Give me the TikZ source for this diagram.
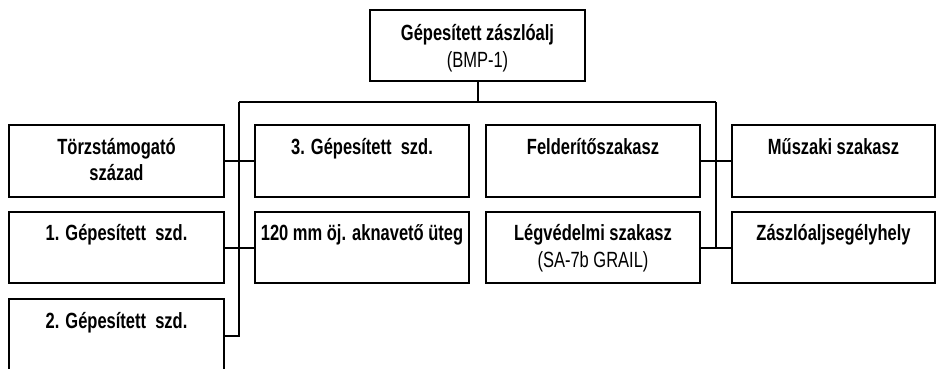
\documentclass[tikz,border=0pt]{standalone}
\usepackage{fontspec}
\setmainfont{Liberation Sans}[FakeStretch=0.75]
\begin{document}
\begin{tikzpicture}[x=1pt,y=-1pt,
  box/.style={draw,line width=2pt,minimum width=#1,minimum height=71.5pt,inner sep=0pt,outer sep=0pt},
  box/.default=214pt,
  txt/.style={anchor=north,inner sep=0pt,align=center,font=\fontsize{22}{26.5}\selectfont,yshift=-9pt},
  conn/.style={line width=2pt}]
\clip (0,0) rectangle (937,368);
\fill[white] (0,0) rectangle (937,368);
\newcommand{\tstr}{\rule{0pt}{20pt}}
% top
\node[box=215pt,label={[txt,yshift=-2pt]north:{\tstr\bfseries Gépesített zászlóalj\\(BMP-1)}}] (top) at (477.5,45.5) {};
% column 1
\node[box=215pt,label={[txt]north:{\tstr\bfseries Törzstámogató\\\bfseries század}}] (b11) at (116.5,161) {};
\node[box=215pt,label={[txt]north:{\tstr\bfseries 1. Gépesített\ \ szd.}}] (b21) at (116.5,247.5) {};
\node[box=215pt,minimum height=73pt,label={[txt]north:{\tstr\bfseries 2. Gépesített\ \ szd.}}] (b31) at (116.5,335.5) {};
% column 2
\node[box,label={[txt]north:{\tstr\bfseries 3. Gépesített\ \ szd.}}] (b12) at (362,161) {};
\node[box,label={[txt]north:{\tstr\bfseries 120 mm öj. aknavető üteg}}] (b22) at (362,247.5) {};
% column 3
\node[box,label={[txt]north:{\tstr\bfseries Felderítőszakasz}}] (b13) at (593,161) {};
\node[box,label={[txt]north:{\tstr\bfseries Légvédelmi szakasz\\(SA-7b GRAIL)}}] (b23) at (593,247.5) {};
% column 4
\node[box=203pt,label={[txt]north:{\tstr\bfseries Műszaki szakasz}}] (b14) at (833.5,161) {};
\node[box=203pt,label={[txt]north:{\tstr\bfseries Zászlóaljsegélyhely}}] (b24) at (833.5,247.5) {};
% connectors
\coordinate (busL) at (239,102);
\coordinate (busR) at (716,102);
\draw[conn] (top.south) -- (top.south |- busL);
\draw[conn] (busL) -- (busR);
\draw[conn] (busL) |- (b31.east);
\draw[conn] (busR) |- (b23.east);
\draw[conn] (b11.east) -- (b12.west);
\draw[conn] (b21.east) -- (b22.west);
\draw[conn] (b13.east) -- (b14.west);
\draw[conn] (b23.east) -- (b24.west);
\end{tikzpicture}
\end{document}
